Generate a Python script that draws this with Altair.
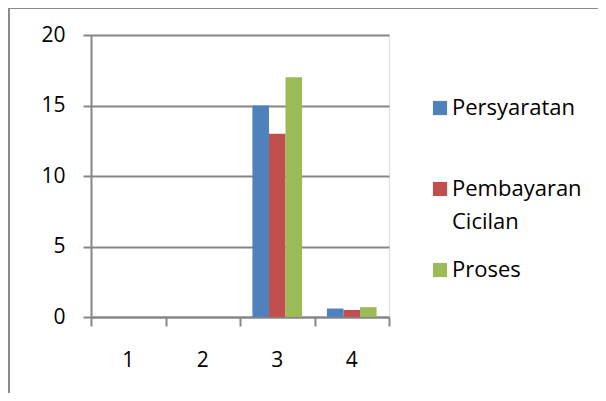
import altair as alt
import pandas as pd

categories = ["1", "2", "3", "4"]
series_names = ["Persyaratan", "Pembayaran Cicilan", "Proses"]
persyaratan = [0, 0, 15, 0.6]
pembayaran_cicilan = [0, 0, 13, 0.5]
proses = [0, 0, 17, 0.7]
colors = ["#4F81BD", "#C0504D", "#9BBB59"]
y_ticks = [0, 5, 10, 15, 20]
boundaries = [0, 1, 2, 3, 4]

rows = []
for name, vals in zip(series_names, [persyaratan, pembayaran_cicilan, proses]):
    for c, v in zip(categories, vals):
        rows.append({"cat": c, "series": name, "value": v})
df = pd.DataFrame(rows)

GRAY = "#868686"
FONT = "Open Sans"
FS = 21

border = alt.Chart(pd.DataFrame({"b": [0]})).mark_rect(
    fill="transparent", stroke="#8a8a8a", strokeWidth=2
).encode(
    x=alt.value(-82), x2=alt.value(700), y=alt.value(-27), y2=alt.value(500)
)

bars = alt.Chart(df).mark_bar().encode(
    x=alt.X(
        "cat:N", sort=categories,
        scale=alt.Scale(paddingInner=0, paddingOuter=0),
        axis=alt.Axis(orient="bottom", title=None, labelAngle=0, ticks=False, domain=False,
                      labelPadding=32, labelFontSize=FS, labelFont=FONT, labelColor="#000000"),
    ),
    xOffset=alt.XOffset("series:N", sort=series_names,
                        scale=alt.Scale(paddingInner=0, paddingOuter=0.75)),
    y=alt.Y(
        "value:Q",
        scale=alt.Scale(domain=[0, 20], nice=False),
        axis=alt.Axis(values=y_ticks, title=None, grid=True, gridColor=GRAY, gridWidth=2,
                      domainColor=GRAY, domainWidth=2, tickColor=GRAY, tickWidth=2, tickSize=8,
                      labelPadding=18, labelFontSize=FS, labelFont=FONT, labelColor="#000000"),
    ),
    color=alt.Color(
        "series:N", sort=series_names,
        scale=alt.Scale(domain=series_names, range=colors),
        legend=alt.Legend(
            title=None, orient="none", legendX=338, legendY=62, padding=0,
            symbolType="square", symbolSize=200, symbolStrokeWidth=0,
            labelFontSize=22, labelFont=FONT, labelColor="#000000", labelOffset=1,
            labelLimit=300, rowPadding=26,
            labelExpr="datum.label == 'Pembayaran Cicilan' ? ['Pembayaran', 'Cicilan'] : [datum.label, ' ']",
        ),
    ),
)

ticks = alt.Chart(pd.DataFrame({"b": boundaries})).mark_point(opacity=0).encode(
    x=alt.X(
        "b:Q",
        scale=alt.Scale(domain=[0, 4], nice=False, zero=False),
        axis=alt.Axis(orient="bottom", values=boundaries, labels=False, title=None, grid=False,
                      tickSize=9, tickColor=GRAY, tickWidth=2, domainColor=GRAY, domainWidth=2),
    ),
    y=alt.value(0),
)

chart = alt.layer(border, bars, ticks).resolve_scale(x="independent").properties(
    width=298, height=282,
    autosize=alt.AutoSizeParams(type="none"),
    padding={"left": 83, "top": 27, "right": 209, "bottom": 76},
).configure_view(stroke=None).configure(
    style={"guide-label": {"lineHeight": 33}}
)

chart.save("out.html", embed_options={"renderer": "svg", "actions": False})
